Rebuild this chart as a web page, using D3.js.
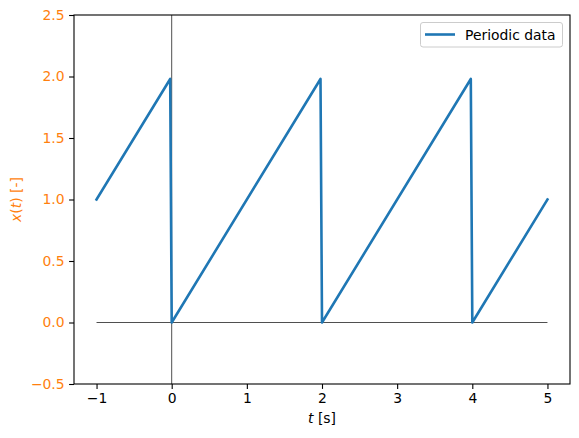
<!DOCTYPE html>
<html><head><meta charset="utf-8">
<script src="https://cdn.jsdelivr.net/npm/d3@7/dist/d3.min.js"></script>
<style>body{margin:0;background:#fff}text{font-family:"DejaVu Sans",sans-serif}</style>
</head><body>
<svg id="c" width="579" height="438"></svg>
<script>
const tVals = [-1, -0.02, 0, 1.98, 2, 3.98, 4, 5];
const xVals = [1, 1.98, 0, 1.98, 0, 1.98, 0, 1];
const xTicks = [-1, 0, 1, 2, 3, 4, 5];
const yTicks = [-0.5, 0.0, 0.5, 1.0, 1.5, 2.0, 2.5];
const seriesName = "Periodic data";

const svg = d3.select("#c");
const L = 74, R = 570, T = 15, B = 384;
const x = d3.scaleLinear().domain([-1.3, 5.3]).range([L, R]);
const y = d3.scaleLinear().domain([-0.5, 2.5]).range([B, T]);
const orange = "#ff7f0e";

// zero line and vertical line
svg.append("line").attr("x1", x(-1)).attr("x2", x(5)).attr("y1", y(0)).attr("y2", y(0))
  .attr("stroke", "#222").attr("stroke-width", 0.8);
svg.append("line").attr("x1", x(0)).attr("x2", x(0)).attr("y1", T).attr("y2", B)
  .attr("stroke", "#222").attr("stroke-width", 0.8);

// series
const data = tVals.map((t, i) => [t, xVals[i]]);
svg.append("path").datum(data)
  .attr("d", d3.line().x(d => x(d[0])).y(d => y(d[1])))
  .attr("fill", "none").attr("stroke", "#1f77b4").attr("stroke-width", 2.6)
  .attr("stroke-linejoin", "round").attr("stroke-linecap", "square");

// axes
const xa = svg.append("g").attr("transform", `translate(0,${B})`)
  .call(d3.axisBottom(x).tickValues(xTicks).tickSize(4.9).tickPadding(4.5).tickFormat(d => d < 0 ? "\u2212" + Math.abs(d) : d));
const ya = svg.append("g").attr("transform", `translate(${L},0)`)
  .call(d3.axisLeft(y).tickValues(yTicks).tickSize(4.9).tickPadding(4.5)
    .tickFormat(d => (d < 0 ? "\u2212" : "") + Math.abs(d).toFixed(1)));
[xa, ya].forEach(g => {
  g.select(".domain").remove();
  g.selectAll(".tick line").attr("stroke", "#000").attr("stroke-width", 1.1);
  g.selectAll(".tick text").attr("font-size", "13.9px").attr("font-family", "DejaVu Sans").attr("fill", "#000");
});
ya.selectAll(".tick text").attr("fill", orange);

// spines
svg.append("rect").attr("x", L).attr("y", T).attr("width", R - L).attr("height", B - T)
  .attr("fill", "none").attr("stroke", "#000").attr("stroke-width", 1.1);

// labels
const xl = svg.append("text").attr("x", (L + R) / 2).attr("y", 423).attr("text-anchor", "middle")
  .attr("font-size", "13.9px");
xl.append("tspan").attr("font-style", "italic").text("t");
xl.append("tspan").text(" [s]");

const yl = svg.append("text").attr("transform", `translate(21,${(T + B) / 2}) rotate(-90)`)
  .attr("text-anchor", "middle").attr("font-size", "13.9px").attr("fill", orange);
yl.append("tspan").attr("font-style", "italic").text("x");
yl.append("tspan").text("(");
yl.append("tspan").attr("font-style", "italic").text("t");
yl.append("tspan").text(") [-]");

// legend
const lg = svg.append("g");
lg.append("rect").attr("x", 420.5).attr("y", 22.5).attr("width", 142).attr("height", 24.5).attr("rx", 2.5)
  .attr("fill", "#fff").attr("fill-opacity", 0.8).attr("stroke", "#ccc").attr("stroke-width", 1);
lg.append("line").attr("x1", 425).attr("x2", 455).attr("y1", 34.5).attr("y2", 34.5)
  .attr("stroke", "#1f77b4").attr("stroke-width", 2.6);
lg.append("text").attr("x", 465).attr("y", 39.5).attr("font-size", "13.9px").text(seriesName);
</script>
</body></html>
